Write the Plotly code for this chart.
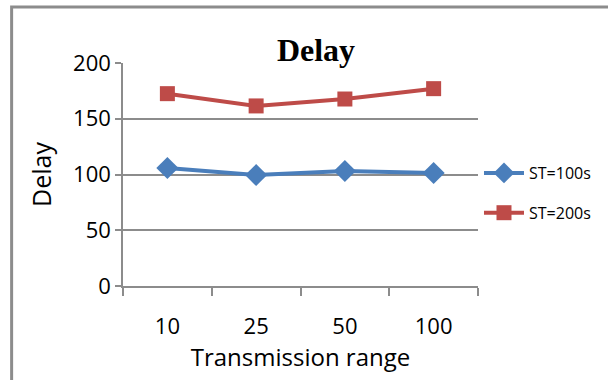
import plotly.graph_objects as go

categories = ["10", "25", "50", "100"]
st100 = [105.8, 99.5, 103.1, 101.3]
st200 = [172.5, 161.5, 167.7, 177.0]

L, R, T, B = 123, 480, 63, 286
W, H = 608, 380
pw, ph = R - L, B - T

def px(x):
    return (x - L) / pw

def py(y):
    return (B - y) / ph

fig = go.Figure()
fig.add_trace(go.Scatter(
    x=categories, y=st100, name="ST=100s", mode="lines+markers", legendgroup="a",
    line=dict(color="#4A7EBB", width=4),
    marker=dict(symbol="diamond", size=17, color="#4A7EBB"),
))
fig.add_trace(go.Scatter(
    x=categories, y=st200, name="ST=200s", mode="lines+markers", legendgroup="b",
    line=dict(color="#BE4B48", width=4),
    marker=dict(symbol="square", size=15, color="#BE4B48"),
))

fig.update_layout(
    width=W, height=H,
    margin=dict(l=L, r=W - R, t=T, b=H - B),
    paper_bgcolor="white", plot_bgcolor="white",
    font=dict(family="Open Sans", color="black"),
    title=dict(text="<b>Delay</b>", xref="container", yref="container",
               x=316 / W, y=1 - 50 / H, xanchor="center", yanchor="middle",
               font=dict(family="Liberation Serif", size=32, color="black")),
    legend=dict(x=px(481), y=py(193), xanchor="left", yanchor="middle",
                font=dict(family="Open Sans", size=16), tracegroupgap=16,
                traceorder="grouped",
                bgcolor="rgba(0,0,0,0)", itemwidth=40),
    showlegend=True,
    shapes=[dict(type="rect", xref="paper", yref="paper",
                 x0=px(11), x1=px(640), y0=py(420), y1=py(7),
                 line=dict(color="#8C8C8C", width=3), layer="below")],
)

fig.update_xaxes(
    type="category", range=[-0.5, 3.5],
    showline=True, linecolor="#8C8C8C", linewidth=1.5,
    ticks="outside", tickson="boundaries", ticklen=8, tickcolor="#8C8C8C", tickwidth=1.5,
    showgrid=False, tickfont=dict(size=22), ticklabelstandoff=20,
    title=dict(text="Transmission range", font=dict(size=24), standoff=1),
)
fig.update_yaxes(
    range=[0, 200], dtick=50,
    showline=True, linecolor="#8C8C8C", linewidth=1.5,
    ticks="outside", ticklen=6, tickcolor="#8C8C8C", tickwidth=1.5,
    showgrid=True, gridcolor="#8C8C8C", gridwidth=1.5, zeroline=False,
    tickfont=dict(size=22),
    title=dict(text="Delay", font=dict(size=25), standoff=14),
)

fig.write_html("out.html")
